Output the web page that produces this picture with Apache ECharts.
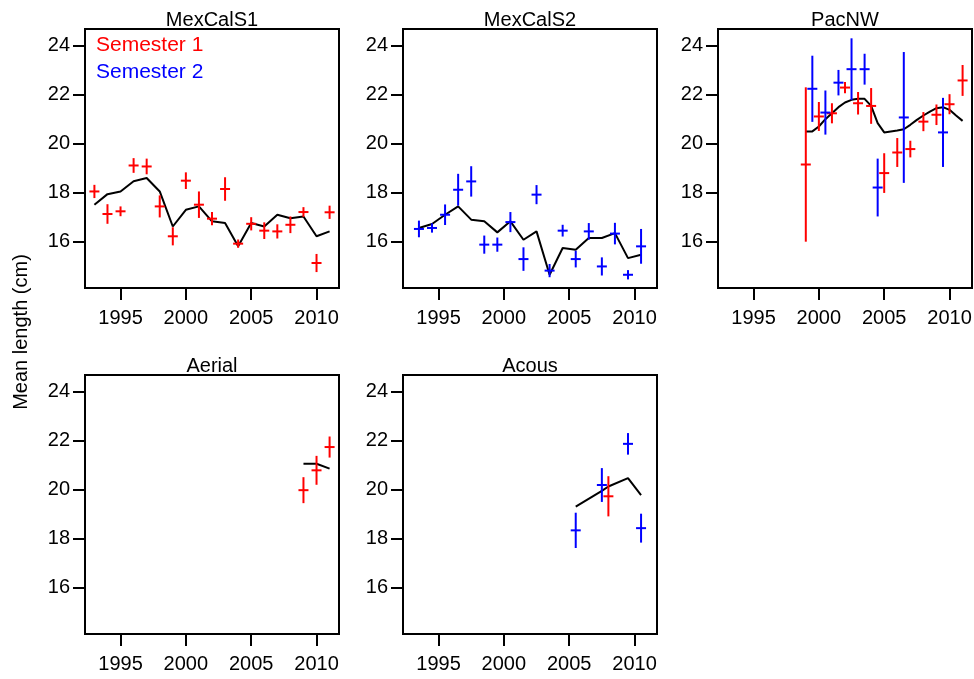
<!DOCTYPE html>
<html>
<head>
<meta charset="utf-8">
<script src="https://cdn.jsdelivr.net/npm/echarts@6/dist/echarts.min.js"></script>
<style>
  html, body { margin: 0; padding: 0; background: #fff; }
  #chart { width: 974px; height: 679px; }
</style>
</head>
<body>
<div id="chart"></div>
<script>
const chart = echarts.init(document.getElementById("chart"));

const FONT = '"Liberation Sans", Arial, sans-serif';
const RED = "#ff0000";
const BLUE = "#0000ff";

const panelNames = ["MexCalS1", "MexCalS2", "PacNW", "Aerial", "Acous"];
const xTicks = [1995, 2000, 2005, 2010];
const yTicks = [16, 18, 20, 22, 24];

// [year, mean, half error bar]
const mexCalS1Sem1 = [
	[1993, 18.05, 0.27], [1994, 17.13, 0.40], [1995, 17.24, 0.20], [1996, 19.11, 0.30],
	[1997, 19.07, 0.32], [1998, 17.44, 0.45], [1999, 16.22, 0.37], [2000, 18.49, 0.34],
	[2001, 17.51, 0.54], [2002, 16.94, 0.27], [2003, 18.15, 0.48], [2004, 15.92, 0.17],
	[2005, 16.73, 0.27], [2006, 16.45, 0.34], [2007, 16.42, 0.29], [2008, 16.69, 0.34],
	[2009, 17.21, 0.20], [2010, 15.13, 0.37], [2011, 17.20, 0.27]
];
const mexCalS1Fit = [
	[1993, 17.51], [1994, 17.94], [1995, 18.05], [1996, 18.47], [1997, 18.60],
	[1998, 18.05], [1999, 16.62], [2000, 17.30], [2001, 17.44], [2002, 16.83],
	[2003, 16.76], [2004, 15.81], [2005, 16.76], [2006, 16.62], [2007, 17.10],
	[2008, 16.96], [2009, 17.03], [2010, 16.22], [2011, 16.42]
];

const mexCalS2Sem2 = [
	[1993.5, 16.52, 0.34], [1994.5, 16.56, 0.19], [1995.5, 17.10, 0.42], [1996.5, 18.12, 0.65],
	[1997.5, 18.46, 0.62], [1998.5, 15.88, 0.37], [1999.5, 15.88, 0.29], [2000.5, 16.80, 0.41],
	[2001.5, 15.29, 0.48], [2002.5, 17.92, 0.39], [2003.5, 14.82, 0.27], [2004.5, 16.45, 0.24],
	[2005.5, 15.29, 0.34], [2006.5, 16.42, 0.34], [2007.5, 14.99, 0.37], [2008.5, 16.33, 0.44],
	[2009.5, 14.65, 0.19], [2010.5, 15.81, 0.71]
];
const mexCalS2Fit = [
	[1993.5, 16.56], [1994.5, 16.72], [1995.5, 17.10], [1996.5, 17.44], [1997.5, 16.90],
	[1998.5, 16.83], [1999.5, 16.38], [2000.5, 16.83], [2001.5, 16.08], [2002.5, 16.42],
	[2003.5, 14.65], [2004.5, 15.74], [2005.5, 15.67], [2006.5, 16.15], [2007.5, 16.15],
	[2008.5, 16.35], [2009.5, 15.33], [2010.5, 15.47]
];

const pacNWSem1 = [
	[1999, 19.15, 3.15], [2000, 21.11, 0.59], [2001, 21.24, 0.41], [2002, 22.29, 0.23],
	[2003, 21.65, 0.46], [2004, 21.54, 0.73], [2005, 18.80, 0.81], [2006, 19.64, 0.59],
	[2007, 19.78, 0.34], [2008, 20.90, 0.39], [2009, 21.18, 0.42], [2010, 21.61, 0.41],
	[2011, 22.58, 0.63]
];
const pacNWSem2 = [
	[1999.5, 22.24, 1.35], [2000.5, 21.27, 0.90], [2001.5, 22.49, 0.52], [2002.5, 23.04, 1.26],
	[2003.5, 23.04, 0.63], [2004.5, 18.21, 1.18], [2006.5, 21.07, 2.67], [2009.5, 20.46, 1.41]
];
const pacNWFit = [
	[1999, 20.50], [1999.5, 20.50], [2000, 20.70], [2000.5, 21.00], [2001, 21.24],
	[2001.5, 21.49], [2002, 21.68], [2002.5, 21.79], [2003, 21.83], [2003.5, 21.83],
	[2004, 21.54], [2004.5, 20.84], [2005, 20.46], [2005.5, 20.50], [2006, 20.54],
	[2006.5, 20.59], [2007, 20.77], [2007.5, 20.97], [2008, 21.15], [2008.5, 21.31],
	[2009, 21.45], [2009.5, 21.49], [2010, 21.38], [2010.5, 21.15], [2011, 20.93]
];

const aerialSem1 = [[2009, 19.98, 0.53], [2010, 20.79, 0.59], [2011, 21.74, 0.43]];
const aerialFit = [[2009, 21.06], [2010, 21.06], [2011, 20.86]];

const acousSem1 = [[2008, 19.73, 0.82]];
const acousSem2 = [[2005.5, 18.34, 0.72], [2007.5, 20.19, 0.69], [2009.5, 21.87, 0.44], [2010.5, 18.43, 0.59]];
const acousFit = [[2005.5, 19.31], [2007.5, 19.95], [2008, 20.13], [2009.5, 20.47], [2010.5, 19.78]];

// panel frames
const COLS = [85, 403, 718];
const ROWS = [29, 375];
const PW = 254;
const PH = 259;
const panelPos = [[0, 0], [1, 0], [2, 0], [0, 1], [1, 1]];

const grids = panelPos.map(([c, r]) => ({
	left: COLS[c], top: ROWS[r], width: PW, height: PH,
	show: true, borderColor: "#000", borderWidth: 2, backgroundColor: "#fff",
	containLabel: false, outerBoundsMode: "none"
}));

const xAxes = grids.map((g, i) => ({
	type: "value", gridIndex: i, min: 1992.28, max: 2011.72,
	axisLine: { show: false },
	splitLine: { show: false },
	axisTick: { show: true, length: 12, lineStyle: { color: "#000", width: 2 }, customValues: xTicks },
	axisLabel: { margin: 20, color: "#000", fontSize: 20, fontFamily: FONT, customValues: xTicks,
		formatter: v => String(v) }
}));

const yAxes = grids.map((g, i) => ({
	type: "value", gridIndex: i, min: 14.11, max: 24.68,
	axisLine: { show: false },
	splitLine: { show: false },
	axisTick: { show: true, length: 12, lineStyle: { color: "#000", width: 2 }, customValues: yTicks },
	axisLabel: { margin: 15, color: "#000", fontSize: 20, fontFamily: FONT, customValues: yTicks,
		formatter: v => String(v) }
}));

function errorBars(data, color, idx) {
	return {
		type: "custom", xAxisIndex: idx, yAxisIndex: idx, data: data, z: 3,
		renderItem: function (params, api) {
			const x = api.value(0), m = api.value(1), e = api.value(2);
			const c = api.coord([x, m]);
			const lo = api.coord([x, m - e]);
			const hi = api.coord([x, m + e]);
			const st = { stroke: color, lineWidth: 2 };
			return {
				type: "group",
				children: [
					{ type: "line", shape: { x1: c[0], y1: lo[1], x2: c[0], y2: hi[1] }, style: st },
					{ type: "line", shape: { x1: c[0] - 5, y1: c[1], x2: c[0] + 5, y2: c[1] }, style: st }
				]
			};
		}
	};
}

function fitLine(data, idx) {
	return {
		type: "line", xAxisIndex: idx, yAxisIndex: idx, data: data, z: 2,
		showSymbol: false, symbol: "none", animation: false,
		lineStyle: { color: "#000", width: 2 }
	};
}

const series = [
	errorBars(mexCalS1Sem1, RED, 0), fitLine(mexCalS1Fit, 0),
	errorBars(mexCalS2Sem2, BLUE, 1), fitLine(mexCalS2Fit, 1),
	errorBars(pacNWSem1, RED, 2), errorBars(pacNWSem2, BLUE, 2), fitLine(pacNWFit, 2),
	errorBars(aerialSem1, RED, 3), fitLine(aerialFit, 3),
	errorBars(acousSem1, RED, 4), errorBars(acousSem2, BLUE, 4), fitLine(acousFit, 4)
];

const texts = panelNames.map((name, i) => {
	const [c, r] = panelPos[i];
	return {
		type: "text", x: COLS[c] + PW / 2, y: ROWS[r] + 1, z: 10,
		style: { text: name, fill: "#000", font: "20px " + FONT, textAlign: "center", textVerticalAlign: "bottom" }
	};
});
texts.push(
	{ type: "text", x: 96, y: 35, z: 10, style: { text: "Semester 1", fill: RED, font: "21px " + FONT } },
	{ type: "text", x: 96, y: 62, z: 10, style: { text: "Semester 2", fill: BLUE, font: "21px " + FONT } },
	{ type: "text", x: 21, y: 332, rotation: Math.PI / 2, z: 10,
	  style: { text: "Mean length (cm)", fill: "#000", font: "20px " + FONT, textAlign: "center", textVerticalAlign: "middle" } }
);

const option = {
	animation: false,
	backgroundColor: "#fff",
	grid: grids,
	xAxis: xAxes,
	yAxis: yAxes,
	series: series,
	graphic: texts
};

chart.setOption(option);
window.onresize = chart.resize;
</script>
</body>
</html>
